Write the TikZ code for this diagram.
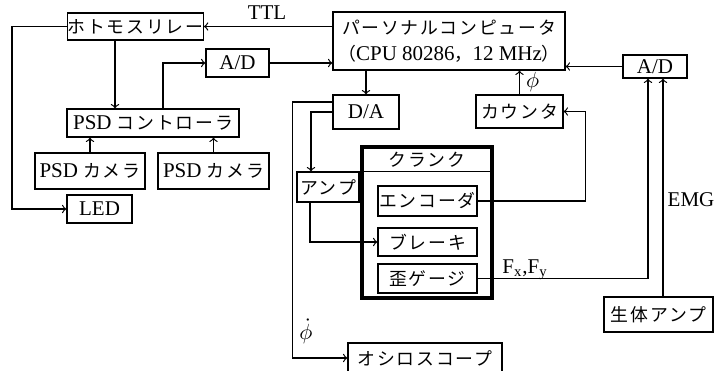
\documentclass[tikz,border=0pt]{standalone}
\usepackage{fontspec}
\setmainfont{Liberation Serif}
\newfontfamily\jp[Scale=0.85,LetterSpace=10]{Noto Sans CJK JP}
\usepackage{tikz}
\usetikzlibrary{arrows,positioning,calc}

\begin{document}
\begin{tikzpicture}[
    x=0.5pt, y=-0.5pt,
    box/.style={rectangle, draw, line width=0.6pt, inner sep=0pt, align=center, font=\fontsize{10.5}{13}\selectfont},
    crankbox/.style={rectangle, draw, line width=1.6pt, inner sep=0pt},
    lbl/.style={inner sep=1pt, font=\fontsize{10.5}{13}\selectfont},
    arrow/.style={->, line width=0.6pt}
]
\useasboundingbox (0,0) rectangle (715,370);

% Left side
\node[box, minimum width=67.5pt, minimum height=13.5pt] (relay) at (135.5,26.5) {\jp ホトモスリレー};
\node[box, minimum width=31.5pt, minimum height=14pt] (adl) at (237.5,63) {A/D};
\node[box, minimum width=86pt, minimum height=14pt] (psdc) at (153,123) {PSD {\jp コントローラ}};
\node[box, minimum width=55pt, minimum height=18pt] (cam1) at (90,171) {PSD {\jp カメラ}};
\node[box, minimum width=55.5pt, minimum height=18pt] (cam2) at (213.5,171) {PSD {\jp カメラ}};
\node[box, minimum width=32.5pt, minimum height=14pt] (led) at (99.5,209) {LED};

% Computer
\node[box, minimum width=116pt, minimum height=29pt] (pc) at (449,41) {{\jp パーソナルコンピュータ}\\{\jp （}CPU 80286{\jp ，}12 MHz{\jp ）}};
\node[box, minimum width=33pt, minimum height=17pt] (da) at (366,112) {D/A};
\node[box, minimum width=43.5pt, minimum height=16.5pt] (cnt) at (519.5,111.5) {\jp カウンタ};
\node[box, minimum width=32pt, minimum height=11.5pt] (adr) at (655,66.5) {A/D};
\node[box, minimum width=31pt, minimum height=15pt] (amp) at (328,187) {\jp アンプ};

% Crank
\node[crankbox, minimum width=65pt, minimum height=75.5pt] (crank) at (427,222.5) {};
\node[lbl] (cranktitle) at (427,160) {\jp クランク};
\draw[line width=0.8pt] ($(crank.north west)+(0,26)$) -- ($(crank.north east)+(0,26)$);
\node[box, minimum width=49.5pt, minimum height=15pt] (enc) at (427.5,201) {\jp エンコーダ};
\node[box, minimum width=49.5pt, minimum height=14pt] (brk) at (427.5,242) {\jp ブレーキ};
\node[box, minimum width=49.5pt, minimum height=14.5pt] (sg) at (427.5,278.5) {\jp 歪ゲージ};

\node[box, minimum width=54.5pt, minimum height=17.5pt] (bio) at (658.5,314.5) {\jp 生体アンプ};
\node[box, minimum width=77pt, minimum height=15pt] (osc) at (425,358) {\jp オシロスコープ};

% Arrows
\coordinate (r1) at ($(relay.south)+(-20.5,0)$);
\coordinate (ad1) at ($(adr.south)+(-7,0)$);
\coordinate (ad2) at ($(adr.south)+(8,0)$);

\draw[arrow] (pc.west |- relay.east) -- (relay.east);
\draw[arrow] (relay.west) -- ++(-55,0) |- (led.west);
\draw[arrow] (r1) -- (r1 |- psdc.north);
\draw[arrow] ($(psdc.north)+(10,0)$) |- (adl.west);
\draw[arrow] (adl.east) -- (adl.east -| pc.west);
\foreach \c in {cam1,cam2} {
    \draw[arrow] (\c.north) -- (\c.north |- psdc.south);
}
\draw[arrow] (da.north |- pc.south) -- (da.north);
\draw[arrow] (cnt.north) -- (cnt.north |- pc.south) node[midway, right, lbl, xshift=2pt] {$\phi$};
\draw[arrow] (adr.west) -- (adr.west -| pc.east);
\draw[arrow] (enc.east) -| ($(cnt.east)+(21.5,0)$) -- (cnt.east);
\draw[arrow] ($(da.west)+(0,-10)$) -| ($(osc.west)+(-55,0)$) -- (osc.west);
\draw[arrow] (da.west) -| ($(amp.north)+(-17,0)$);
\draw[arrow] ($(amp.south)+(-18,0)$) |- (brk.west);
\draw[arrow] (sg.east) -| (ad1);
\draw[arrow] (bio.north -| ad2) -- (ad2);

% Labels
\node[lbl] (ttl) at (267,13) {TTL};
\node[lbl, inner sep=0pt] (phidot) at (306,331) {$\dot\phi$};
\node[lbl] (force) at (525,270) {F\textsubscript{x},F\textsubscript{y}};
\node[lbl] (emg) at (691,200) {EMG};

\end{tikzpicture}
\end{document}
